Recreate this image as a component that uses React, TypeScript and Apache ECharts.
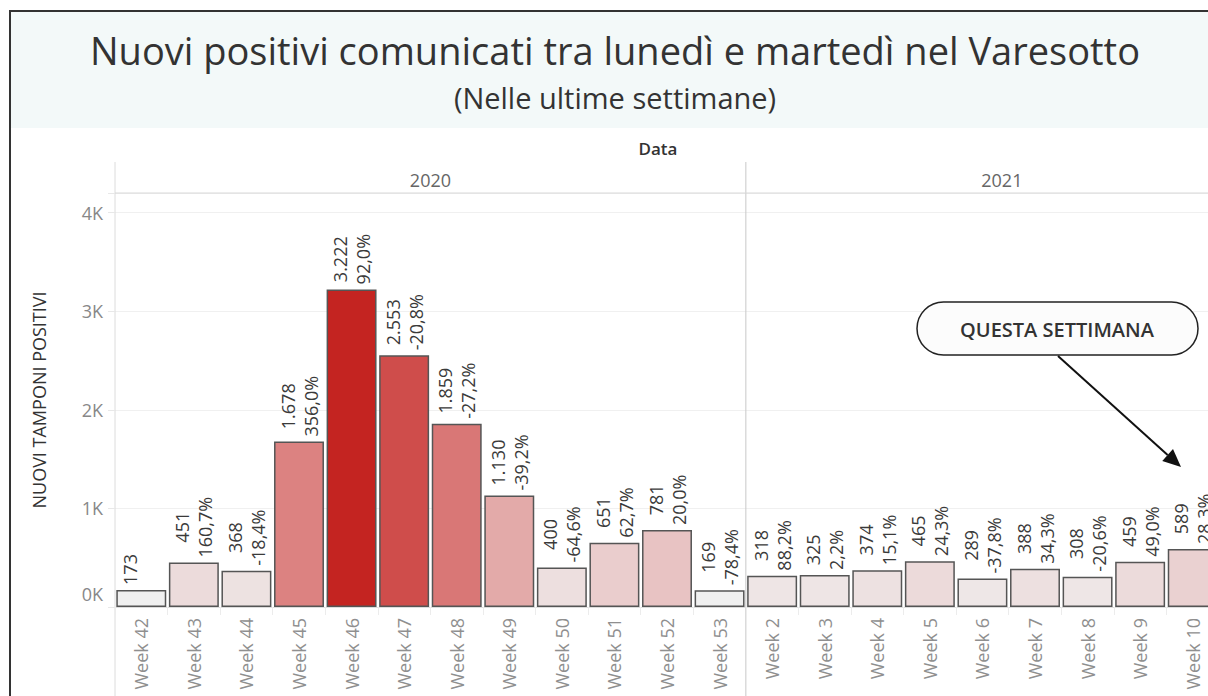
import { useEffect, useRef } from 'react';
import * as echarts from 'echarts';

const weeks = [
  'Week 42', 'Week 43', 'Week 44', 'Week 45', 'Week 46', 'Week 47', 'Week 48',
  'Week 49', 'Week 50', 'Week 51', 'Week 52', 'Week 53',
  'Week 2', 'Week 3', 'Week 4', 'Week 5', 'Week 6', 'Week 7', 'Week 8', 'Week 9', 'Week 10',
];
const years = ['2020', '2021'];
const values = [173, 451, 368, 1678, 3222, 2553, 1859, 1130, 400, 651, 781, 169, 318, 325, 374, 465, 289, 388, 308, 459, 589];
const changes = [
  '', '160,7%', '-18,4%', '356,0%', '92,0%', '-20,8%', '-27,2%', '-39,2%', '-64,6%', '62,7%', '20,0%', '-78,4%',
  '88,2%', '2,2%', '15,1%', '24,3%', '-37,8%', '34,3%', '-20,6%', '49,0%', '28,3%',
];
const yMax = 4200;
const yStep = 1000;

function fmtIt(v: number): string {
  return String(v).replace(/\B(?=(\d{3})+(?!\d))/g, '.');
}

export default function App() {
  const ref = useRef<HTMLDivElement>(null);
  useEffect(() => {
    const chart = echarts.init(ref.current!, null, { renderer: 'svg' });
    const font = '"Open Sans", sans-serif';
    chart.setOption({
      animation: false,
      backgroundColor: '#ffffff',
      grid: { left: 115, top: 193, width: 1104, height: 414, outerBoundsMode: 'none', containLabel: false },
      xAxis: {
        type: 'category',
        data: weeks,
        axisLine: { show: true, lineStyle: { color: '#dddddd', width: 1 } },
        axisTick: { show: true, length: 8, lineStyle: { color: '#ececec' } },
        axisLabel: { rotate: 90, margin: 11, color: '#8f8f8f', fontSize: 18, fontFamily: font, interval: 0 },
      },
      yAxis: {
        type: 'value',
        min: 0,
        max: yMax,
        interval: yStep,
        name: 'NUOVI TAMPONI POSITIVI',
        nameLocation: 'middle',
        nameGap: 67,
        nameRotate: 90,
        nameTextStyle: { color: '#333333', fontSize: 18, fontFamily: font },
        axisLine: { show: false },
        axisTick: { show: true, length: 7, lineStyle: { color: '#e8e8e8' } },
        axisLabel: {
          margin: 12,
          color: '#888888',
          fontSize: 18,
          fontFamily: font,
          formatter: (v: number) => (v === 0 ? '{z|0K}' : v % yStep === 0 ? v / 1000 + 'K' : ''),
          rich: { z: { color: '#888888', fontSize: 18, fontFamily: font, padding: [0, 0, 26, 0] } },
        },
        splitLine: { lineStyle: { color: '#f0f0f0', width: 1 } },
      },
      visualMap: {
        show: false,
        type: 'continuous',
        seriesIndex: 0,
        dimension: 1,
        min: Math.min(...values),
        max: Math.max(...values),
        inRange: { color: ['#f0f0f0', '#dc8180', '#c42421'] },
      },
      series: [
        {
          type: 'bar',
          data: values,
          barWidth: '95%',
          itemStyle: { borderColor: '#555555', borderWidth: 1.5 },
          label: {
            show: true,
            position: 'top',
            rotate: 90,
            align: 'left',
            verticalAlign: 'middle',
            distance: 5,
            formatter: (p: any) => `{a|${fmtIt(values[p.dataIndex])}}\n{a|${changes[p.dataIndex] || ' '}}`,
            rich: { a: { align: 'center', fontSize: 18, lineHeight: 23, color: '#3a3a3a', fontFamily: font } },
          },
        },
      ],
    });

    const p0 = chart.convertToPixel({ xAxisIndex: 0 }, weeks[0]) as number;
    const p1 = chart.convertToPixel({ xAxisIndex: 0 }, weeks[1]) as number;
    const band = p1 - p0;
    const lastIdx2020 = weeks.indexOf('Week 53');
    const pSep = chart.convertToPixel({ xAxisIndex: 0 }, weeks[lastIdx2020]) as number;
    const leftX = p0 - band / 2;
    const sepX = pSep + band / 2;
    const topY = chart.convertToPixel({ yAxisIndex: 0 }, yMax) as number;

    const tx = (text: string, x: number, y: number, size: number, color: string, weight: any = 'normal') => ({
      type: 'text',
      x,
      y,
      style: {
        text,
        fontSize: size,
        fontFamily: font,
        fontWeight: weight,
        fill: color,
        align: 'center',
        verticalAlign: 'middle',
        textAlign: 'center',
        textVerticalAlign: 'middle',
      },
    });

    // arrow geometry
    const ax0 = 1058, ay0 = 356, ax1 = 1181, ay1 = 467;
    const dx = ax1 - ax0, dy = ay1 - ay0;
    const len = Math.sqrt(dx * dx + dy * dy);
    const ux = dx / len, uy = dy / len;
    const hl = 18, hw = 8;
    const bx = ax1 - ux * hl, by = ay1 - uy * hl;

    chart.setOption({
      graphic: [
        { type: 'rect', z: -10, shape: { x: 10, y: 11, width: 1198, height: 117 }, style: { fill: '#f3f9f9' } },
        { type: 'line', z: 10, shape: { x1: 10, y1: 10, x2: 10, y2: 696 }, style: { stroke: '#333333', lineWidth: 2 } },
        { type: 'line', z: 10, shape: { x1: 9, y1: 11, x2: 1208, y2: 11 }, style: { stroke: '#333333', lineWidth: 2 } },
        tx('Nuovi positivi comunicati tra lunedì e martedì nel Varesotto', 615, 50, 38, '#333333', 500),
        tx('(Nelle ultime settimane)', 615, 97, 29, '#333333', 500),
        tx('Data', 658, 148, 17, '#333333', 600),
        { type: 'line', shape: { x1: leftX, y1: 162, x2: leftX, y2: 696 }, style: { stroke: '#dcdcdc', lineWidth: 1 } },
        { type: 'line', shape: { x1: sepX, y1: 162, x2: sepX, y2: 696 }, style: { stroke: '#c8c8c8', lineWidth: 1 } },
        { type: 'line', shape: { x1: leftX, y1: topY, x2: 1208, y2: topY }, style: { stroke: '#d8d8d8', lineWidth: 1 } },
        tx(years[0], (leftX + sepX) / 2, 180, 18, '#666666'),
        tx(years[1], sepX + 256, 180, 18, '#666666'),
        { type: 'rect', shape: { x: 917, y: 302, width: 281, height: 53, r: 26.5 }, style: { fill: '#fcfcfc', stroke: '#222222', lineWidth: 1.5 } },
        tx('QUESTA SETTIMANA', 1057, 329, 20, '#333333', 600),
        { type: 'line', shape: { x1: ax0, y1: ay0, x2: bx, y2: by }, style: { stroke: '#111111', lineWidth: 2 } },
        {
          type: 'polygon',
          shape: { points: [[ax1, ay1], [bx - uy * hw, by + ux * hw], [bx + uy * hw, by - ux * hw]] },
          style: { fill: '#111111' },
        },
      ],
    });

    return () => chart.dispose();
  }, []);
  return <div ref={ref} style={{ position: 'fixed', left: 0, top: 0, width: 1208, height: 696, overflow: 'hidden' }} />;
}
